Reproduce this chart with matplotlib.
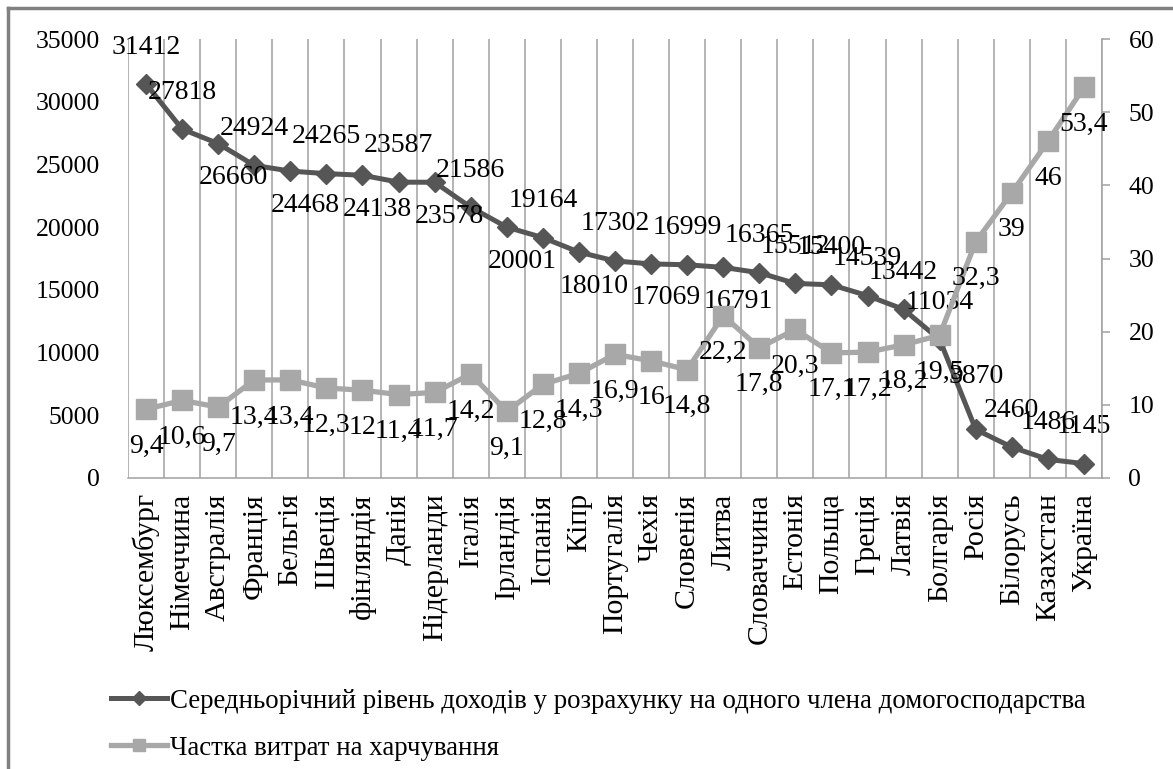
import matplotlib
matplotlib.use("Agg")
import matplotlib.pyplot as plt
from matplotlib.lines import Line2D
import numpy as np

plt.rcParams['font.family'] = 'serif'
plt.rcParams['font.serif'] = ['Liberation Serif', 'DejaVu Serif']

countries = ['Люксембург', 'Німеччина', 'Австралія', 'Франція', 'Бельгія',
             'Швеція', 'фінляндія', 'Данія', 'Нідерланди', 'Італія',
             'Ірландія', 'Іспанія', 'Кіпр', 'Португалія', 'Чехія',
             'Словенія', 'Литва', 'Словаччина', 'Естонія', 'Польща',
             'Греція', 'Латвія', 'Болгарія', 'Росія', 'Білорусь',
             'Казахстан', 'Україна']

income = [31412, 27818, 26660, 24924, 24468, 24265, 24138, 23587, 23578,
          21586, 20001, 19164, 18010, 17302, 17069, 16999, 16791, 16365,
          15512, 15400, 14539, 13442, 11034, 3870, 2460, 1486, 1145]

food_share = [9.4, 10.6, 9.7, 13.4, 13.4, 12.3, 12, 11.4, 11.7, 14.2, 9.1,
              12.8, 14.3, 16.9, 16, 14.8, 22.2, 17.8, 20.3, 17.1, 17.2, 18.2,
              19.5, 32.3, 39, 46, 53.4]

income_name = 'Середньорічний рівень доходів у розрахунку на одного члена домогосподарства'
food_name = 'Частка витрат на харчування'

# where each income label sits relative to its marker
income_label_pos = ['a', 'a', 'b', 'a', 'b', 'a', 'b', 'a', 'b', 'a', 'b',
                    'a', 'b', 'a', 'b', 'a', 'b', 'a', 'a', 'a', 'a', 'a',
                    'a', 'h', 'a', 'a', 'a']
offsets = {'a': (0, 37), 'b': (15, -34), 'h': (0, 53)}

dark = '#565656'
light = '#a8a8a8'
grid_c = '#a0a0a0'
fs = 18.5

fig = plt.figure(figsize=(11.73, 7.69), dpi=100)
ax = fig.add_axes([128 / 1173, 1 - 478 / 769, 974 / 1173, 439 / 769])
x = np.arange(len(countries))

ax.plot(x, income, color=dark, lw=3.6, marker='D', ms=10.5, zorder=3)
ax.set_ylim(0, 35000)
ax.set_yticks(np.arange(0, 35001, 5000))
ax.set_xlim(-0.5, len(countries) - 0.5)
ax.set_xticks(x)
ax.set_xticklabels(countries, rotation=90, fontsize=21.5, va='top', ha='center')
ax.tick_params(axis='x', length=0, pad=11)
ax.tick_params(axis='y', length=0, pad=20, labelsize=fs)
for b in np.arange(-0.5, len(countries), 1.0):
    ax.axvline(b, color=grid_c, lw=1.1, zorder=0)
for s in ['left', 'top', 'right']:
    ax.spines[s].set_visible(False)
ax.spines['bottom'].set_color(grid_c)
ax.spines['bottom'].set_linewidth(1.1)

for i, v in enumerate(income):
    ax.annotate(str(v), (x[i], v), xytext=offsets[income_label_pos[i]],
                textcoords='offset pixels', ha='center', va='center',
                fontsize=20, zorder=5)

ax2 = ax.twinx()
ax2.plot(x, food_share, color=light, lw=3.8, marker='s', ms=14, zorder=3)
ax2.set_ylim(0, 60)
ax2.set_yticks(np.arange(0, 61, 10))
ax2.tick_params(axis='y', direction='out', length=6, width=1.1,
                color=grid_c, pad=13, labelsize=fs)
for s in ['left', 'top', 'bottom']:
    ax2.spines[s].set_visible(False)
ax2.spines['right'].set_color(grid_c)
ax2.spines['right'].set_linewidth(1.1)

for i, v in enumerate(food_share):
    ax2.annotate(f'{v:g}'.replace('.', ','), (x[i], v), xytext=(0, -37),
                 textcoords='offset pixels', ha='center', va='center',
                 fontsize=20, zorder=5)

handles = [Line2D([], [], color=dark, lw=3.6, marker='D', ms=7),
           Line2D([], [], color=light, lw=3.8, marker='s', ms=9)]
fig.legend(handles, [income_name, food_name], loc='upper left',
           bbox_to_anchor=(100 / 1173, 1 - 678 / 769), frameon=False,
           fontsize=19.4, handlelength=2.1, handletextpad=0.1,
           labelspacing=0.82, borderaxespad=0)

# outer frame
fig.add_artist(Line2D([8 / 1173, 8 / 1173], [0, 1 - 8 / 769], color='#808080',
                      lw=2.5, transform=fig.transFigure))
fig.add_artist(Line2D([8 / 1173, 1], [1 - 8 / 769, 1 - 8 / 769], color='#808080',
                      lw=2.5, transform=fig.transFigure))

fig.savefig('out.png', dpi=100)
